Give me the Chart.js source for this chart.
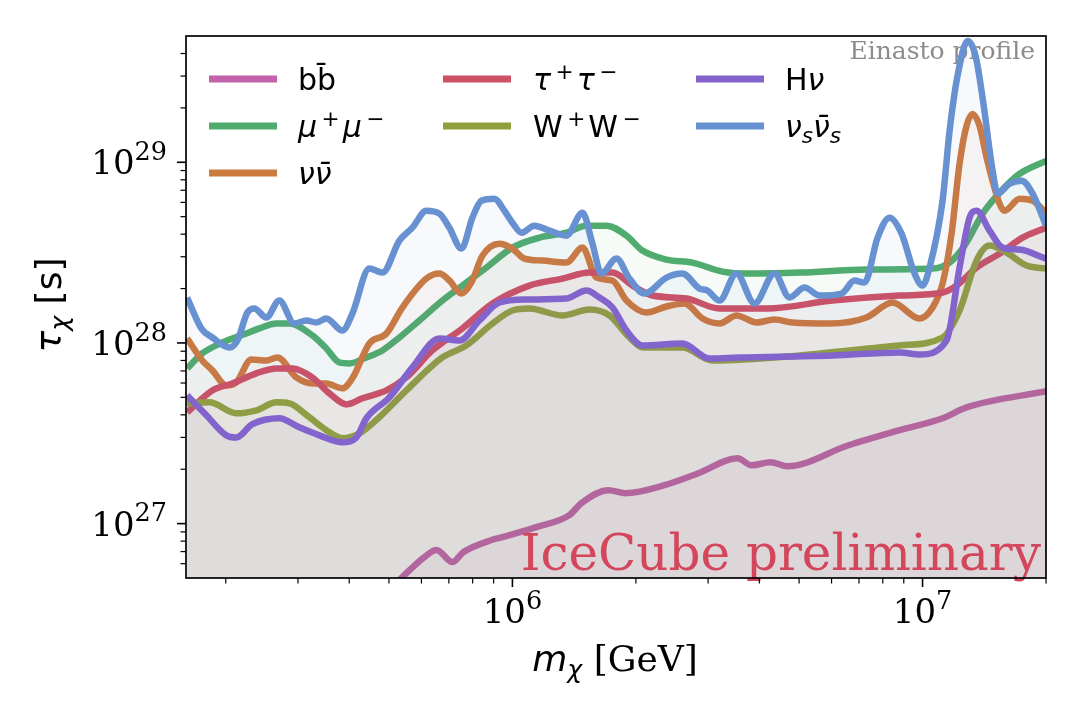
<!DOCTYPE html>
<html><head><meta charset="utf-8">
<script src="https://cdn.jsdelivr.net/npm/chart.js@4.4.1/dist/chart.umd.min.js"></script>
<style>html,body{margin:0;padding:0;background:#fff;}#wrap{width:1080px;height:720px;}</style>
</head><body><div id="wrap"><canvas id="c" width="1080" height="720"></canvas></div>
<script>
// ---- data (mass in GeV, lifetime lower limit in s) ----
const massBB = [4.87e5,5.39e5,6.10e5,6.53e5,7.14e5,7.60e5,8.89e5,9.45e5,1.144e6,1.377e6,1.473e6,1.715e6,1.886e6,2.348e6,2.843e6,3.538e6,3.827e6,4.258e6,4.685e6,6.60e6,8.79e6,1.119e7,1.28e7,2.0e7];
const tauBB  = [4.08e26,5.06e26,6.53e26,7.14e26,6.13e26,6.96e26,8.11e26,8.42e26,9.57e26,1.114e27,1.298e27,1.531e27,1.474e27,1.632e27,1.901e27,2.30e27,2.104e27,2.186e27,2.078e27,2.715e27,3.29e27,3.83e27,4.40e27,5.40e27];

const massMuMu = [1.61e5,1.753e5,1.962e5,2.245e5,2.415e5,2.657e5,2.859e5,3.252e5,3.518e5,3.785e5,4.004e5,4.405e5,4.819e5,5.302e5,5.932e5,6.75e5,7.55e5,8.64e5,1.0e6,1.164e6,1.354e6,1.515e6,1.696e6,1.897e6,2.075e6,2.375e6,2.748e6,3.252e6,3.785e6,5.012e6,7.30e6,1.058e7,1.164e7,1.266e7,1.401e7,1.541e7,1.725e7,2.0e7];
const tauMuMu  = [7.23e27,8.75e27,1.006e28,1.128e28,1.203e28,1.281e28,1.281e28,1.10e28,9.32e27,7.80e27,7.70e27,8.31e27,9.09e27,1.072e28,1.331e28,1.717e28,2.078e28,2.613e28,3.37e28,3.827e28,4.078e28,4.46e28,4.46e28,3.926e28,3.245e28,2.893e28,2.785e28,2.483e28,2.421e28,2.452e28,2.547e28,2.58e28,2.785e28,3.457e28,5.194e28,6.785e28,8.64e28,1.019e29];

const massNuNu = [1.61e5,1.753e5,1.855e5,2.006e5,2.122e5,2.309e5,2.512e5,2.672e5,2.973e5,3.252e5,3.518e5,3.85e5,4.072e5,4.479e5,4.929e5,5.391e5,6.168e5,6.637e5,7.02e5,7.51e5,7.943e5,8.45e5,9.297e5,1.0e6,1.07e6,1.184e6,1.354e6,1.482e6,1.603e6,1.754e6,1.897e6,2.122e6,2.375e6,2.627e6,2.907e6,3.198e6,3.518e6,3.937e6,4.355e6,4.819e6,5.932e6,7.30e6,8.45e6,9.83e6,1.058e7,1.119e7,1.177e7,1.231e7,1.28e7,1.324e7,1.377e7,1.433e7,1.541e7,1.585e7,1.725e7,1.855e7,2.0e7];
const tauNuNu  = [1.059e28,8.0e27,7.05e27,5.82e27,6.05e27,8.11e27,8.0e27,8.31e27,6.45e27,5.97e27,5.97e27,5.61e27,6.37e27,9.94e27,1.128e28,1.571e28,2.272e28,2.421e28,2.215e28,1.877e28,2.16e28,3.043e28,3.546e28,3.328e28,2.93e28,2.857e28,2.785e28,3.37e28,2.301e28,2.215e28,1.717e28,1.474e28,1.591e28,1.653e28,1.366e28,1.281e28,1.419e28,1.298e28,1.348e28,1.298e28,1.281e28,1.383e28,1.674e28,1.366e28,1.571e28,2.132e28,4.027e28,9.81e28,1.591e29,1.853e29,1.591e29,1.059e29,5.90e28,5.395e28,6.284e28,6.127e28,5.26e28];

const massTauTau = [1.61e5,1.855e5,2.076e5,2.375e5,2.657e5,2.907e5,3.252e5,3.579e5,3.937e5,4.307e5,4.929e5,5.514e5,6.38e5,7.55e5,8.94e5,1.1e6,1.324e6,1.541e6,1.754e6,1.962e6,2.195e6,2.657e6,3.198e6,4.164e6,6.03e6,8.79e6,1.119e7,1.21e7,1.354e7,1.541e7,1.754e7,2.0e7];
const tauTauTau  = [4.13e27,5.46e27,5.97e27,6.79e27,7.23e27,7.23e27,6.45e27,5.26e27,4.57e27,4.94e27,5.46e27,6.45e27,9.09e27,1.203e28,1.653e28,2.078e28,2.272e28,2.452e28,2.452e28,2.078e28,1.83e28,1.762e28,1.551e28,1.551e28,1.717e28,1.83e28,1.901e28,2.078e28,2.613e28,3.122e28,3.827e28,4.346e28];

const massWW = [1.61e5,1.824e5,2.122e5,2.375e5,2.657e5,2.859e5,3.197e5,3.518e5,3.85e5,4.235e5,4.738e5,5.514e5,6.75e5,7.72e5,8.94e5,1.0e6,1.1e6,1.324e6,1.541e6,1.725e6,1.929e6,2.075e6,2.597e6,3.075e6,5.012e6,8.79e6,1.119e7,1.231e7,1.354e7,1.457e7,1.603e7,1.794e7,2.0e7];
const tauWW  = [4.63e27,4.69e27,4.08e27,4.24e27,4.69e27,4.63e27,3.88e27,3.29e27,2.97e27,3.16e27,3.88e27,5.46e27,8.31e27,9.69e27,1.281e28,1.512e28,1.551e28,1.419e28,1.531e28,1.419e28,1.072e28,9.44e27,9.44e27,8.0e27,8.53e27,9.69e27,1.072e28,1.512e28,2.857e28,3.457e28,3.162e28,2.68e28,2.58e28];

const massHNu = [1.61e5,1.794e5,2.006e5,2.122e5,2.322e5,2.702e5,3.023e5,3.382e5,3.85e5,4.164e5,4.405e5,5.012e5,5.703e5,6.637e5,7.43e5,8.31e5,9.297e5,1.082e6,1.354e6,1.515e6,1.63e6,1.754e6,1.897e6,2.075e6,2.597e6,3.023e6,3.579e6,6.03e6,8.79e6,9.83e6,1.144e7,1.231e7,1.302e7,1.354e7,1.457e7,1.567e7,1.725e7,2.0e7];
const tauHNu  = [5.13e27,3.98e27,3.08e27,3.00e27,3.55e27,3.83e27,3.41e27,3.08e27,2.82e27,3.00e27,3.83e27,5.0e27,7.32e27,1.059e28,1.032e28,1.331e28,1.674e28,1.739e28,1.762e28,1.95e28,1.784e28,1.571e28,1.172e28,9.69e27,9.94e27,8.21e27,8.31e27,8.53e27,8.86e27,8.64e27,1.032e28,2.613e28,4.936e28,5.395e28,4.183e28,3.37e28,3.286e28,2.93e28];

const massNuS = [1.61e5,1.744e5,1.855e5,2.04e5,2.135e5,2.258e5,2.349e5,2.512e5,2.702e5,2.94e5,3.145e5,3.327e5,3.518e5,3.85e5,4.072e5,4.479e5,4.819e5,5.302e5,5.703e5,6.168e5,6.637e5,7.02e5,7.51e5,7.988e5,8.40e5,9.04e5,9.56e5,1.0e6,1.052e6,1.131e6,1.231e6,1.354e6,1.482e6,1.567e6,1.648e6,1.793e6,1.929e6,2.099e6,2.375e6,2.597e6,2.858e6,2.99e6,3.198e6,3.518e6,3.893e6,4.355e6,4.738e6,5.155e6,5.608e6,6.346e6,6.826e6,7.22e6,7.77e6,8.31e6,8.89e6,9.56e6,1.0e7,1.04e7,1.119e7,1.164e7,1.217e7,1.288e7,1.347e7,1.401e7,1.482e7,1.524e7,1.63e7,1.744e7,1.855e7,2.0e7];
const tauNuS  = [1.784e28,1.203e28,1.072e28,9.44e27,1.032e28,1.474e28,1.551e28,1.383e28,1.717e28,1.281e28,1.331e28,1.298e28,1.366e28,1.172e28,1.455e28,2.58e28,2.452e28,3.684e28,4.346e28,5.395e28,5.194e28,4.346e28,3.328e28,4.936e28,6.127e28,6.284e28,5.395e28,4.632e28,4.078e28,4.46e28,4.183e28,3.926e28,5.26e28,3.546e28,2.421e28,2.93e28,2.272e28,1.877e28,2.301e28,2.421e28,2.0e28,1.95e28,1.717e28,2.421e28,1.653e28,2.421e28,1.784e28,2.026e28,1.83e28,1.877e28,2.215e28,2.16e28,3.827e28,4.936e28,4.027e28,2.421e28,2.078e28,2.613e28,6.127e28,1.493e29,3.006e29,4.692e29,3.877e29,2.272e29,8.974e28,6.699e28,7.606e28,7.9e28,6.699e28,4.46e28];

const seriesNames = ['bb̄','μ⁺μ⁻','νν̄','τ⁺τ⁻','W⁺W⁻','Hν','νₛν̄ₛ'];
const legendLabels = [
  [{t:'b'},{t:'b\u0304'}],
  [{t:'μ',it:1},{t:'+',sup:1,gap:0.15},{t:'μ',it:1,gap:0.1},{t:'−',sup:1,gap:0.15}],
  [{t:'ν',it:1},{t:'ν\u0304',it:1}],
  [{t:'τ',it:1},{t:'+',sup:1,gap:0.15},{t:'τ',it:1,gap:0.1},{t:'−',sup:1,gap:0.15}],
  [{t:'W'},{t:'+',sup:1,gap:0.15},{t:'W',gap:0.1},{t:'−',sup:1,gap:0.15}],
  [{t:'H'},{t:'ν',it:1}],
  [{t:'ν',it:1},{t:'s',it:1,sub:1},{t:'ν\u0304',it:1},{t:'s',it:1,sub:1}]
];
const xMajorTicks = [1e6, 1e7];
const xMajorExps = ['6', '7'];
const xMinorTicks = [2e5,3e5,4e5,5e5,6e5,7e5,8e5,9e5,2e6,3e6,4e6,5e6,6e6,7e6,8e6,9e6,2e7];
const yMajorTicks = [1e27, 1e28, 1e29];
const yMajorExps = ['27', '28', '29'];
const yMinorTicks = [6e26,7e26,8e26,9e26,2e27,3e27,4e27,5e27,6e27,7e27,8e27,9e27,2e28,3e28,4e28,5e28,6e28,7e28,8e28,9e28,2e29,3e29,4e29];

const seriesMass = [massBB, massMuMu, massNuNu, massTauTau, massWW, massHNu, massNuS];
const seriesTau  = [tauBB, tauMuMu, tauNuNu, tauTauTau, tauWW, tauHNu, tauNuS];
const seriesColors = ['#c462ab','#50ac6e','#cd7a3e','#cd5064','#929f3d','#8563cc','#6791d0'];

function rgba(hex, a){
  const n = parseInt(hex.slice(1),16);
  return `rgba(${(n>>16)&255},${(n>>8)&255},${n&255},${a})`;
}

const datasets = seriesMass.map((m,i)=>({
  label: seriesNames[i],
  data: m.map((x,j)=>({x:x, y:seriesTau[i][j]})),
  borderColor: seriesColors[i],
  backgroundColor: rgba(seriesColors[i], 0.05),
  fill: 'start',
  borderWidth: 6.5,
  pointRadius: 0,
  cubicInterpolationMode: 'monotone',
  borderJoinStyle: 'round',
  borderCapStyle: 'butt',
  clip: 0,
  order: 10 - i
}));

function fontFor(p, size, supScale){
  const sz = (p.sup || p.sub) ? size*(supScale||0.7) : size;
  const fam = p.serif ? '"DejaVu Serif"' : '"DejaVu Sans"';
  return (p.it ? 'italic ' : '') + sz.toFixed(1) + 'px ' + fam;
}
function richWidth(ctx, pieces, size, supScale){
  let w = 0;
  for (const p of pieces){ ctx.font = fontFor(p,size,supScale); w += ctx.measureText(p.t).width + (p.gap||0)*size; }
  return w;
}
function drawRich(ctx, pieces, x, y, size, align, supRise, supScale){
  const w = richWidth(ctx, pieces, size, supScale);
  let cx = align === 'center' ? x - w/2 : align === 'right' ? x - w : x;
  ctx.textAlign = 'left'; ctx.textBaseline = 'alphabetic';
  for (const p of pieces){
    ctx.font = fontFor(p,size,supScale);
    cx += (p.gap||0)*size;
    const dy = p.sup ? -size*(supRise||0.38) : p.sub ? size*0.2 : 0;
    ctx.fillText(p.t, cx, y + dy);
    cx += ctx.measureText(p.t).width;
  }
}

const decor = {
  id: 'decor',
  beforeDatasetsDraw(chart){
    const ctx = chart.ctx;
    ctx.save();
    ctx.fillStyle = '#8c8c8c';
    ctx.font = '25px "DejaVu Serif"';
    ctx.textAlign = 'right'; ctx.textBaseline = 'alphabetic';
    ctx.fillText('Einasto profile', 1035, 59);
    ctx.restore();
  },
  afterDatasetsDraw(chart){
    const ctx = chart.ctx, a = chart.chartArea;
    const xs = chart.scales.x, ys = chart.scales.y;
    ctx.save();
    // watermark
    ctx.fillStyle = '#d3465c';
    ctx.font = '50px "DejaVu Serif"';
    ctx.textAlign = 'right'; ctx.textBaseline = 'alphabetic';
    ctx.fillText('IceCube preliminary', 1041, 570);
    // frame
    ctx.strokeStyle = '#000'; ctx.lineWidth = 1.7;
    ctx.strokeRect(a.left, a.top, a.right - a.left, a.bottom - a.top);
    // ticks
    ctx.lineCap = 'butt';
    const tick = (x1,y1,x2,y2,w)=>{ ctx.lineWidth = w; ctx.beginPath(); ctx.moveTo(x1,y1); ctx.lineTo(x2,y2); ctx.stroke(); };
    xMinorTicks.forEach(v=>{ const px = xs.getPixelForValue(v); tick(px, a.bottom, px, a.bottom+5.5, 1.2); });
    xMajorTicks.forEach(v=>{ const px = xs.getPixelForValue(v); tick(px, a.bottom, px, a.bottom+9, 1.6); });
    yMinorTicks.forEach(v=>{ const py = ys.getPixelForValue(v); tick(a.left, py, a.left-5.5, py, 1.2); });
    yMajorTicks.forEach(v=>{ const py = ys.getPixelForValue(v); tick(a.left, py, a.left-9, py, 1.6); });
    // tick labels
    ctx.fillStyle = '#000';
    xMajorTicks.forEach((v,i)=>{
      const px = xs.getPixelForValue(v);
      drawRich(ctx, [{t:'10',serif:1},{t:xMajorExps[i],serif:1,sup:1}], px, 623, 34, 'center', 0.42, 0.75);
    });
    yMajorTicks.forEach((v,i)=>{
      const py = ys.getPixelForValue(v);
      drawRich(ctx, [{t:'10',serif:1},{t:yMajorExps[i],serif:1,sup:1}], 167, py + 12, 34, 'right', 0.42, 0.75);
    });
    // axis titles
    drawRich(ctx, [{t:'m',it:1},{t:'χ',it:1,sub:1},{t:' [GeV]',serif:1}], 615, 671, 36, 'center');
    ctx.save();
    ctx.translate(61, 305); ctx.rotate(-Math.PI/2);
    drawRich(ctx, [{t:'τ',it:1},{t:'χ',it:1,sub:1},{t:' [s]'}], 0, 0, 36, 'center');
    ctx.restore();
    // legend (3 columns, column-major)
    const colLine = [209, 443, 696], colText = [298, 533, 785], rowY = [79, 126, 173];
    const place = [[0,0],[0,1],[0,2],[1,0],[1,1],[2,0],[2,1]];
    place.forEach(([c,r],i)=>{
      ctx.strokeStyle = seriesColors[i]; ctx.lineWidth = 7; ctx.lineCap = 'butt';
      ctx.beginPath(); ctx.moveTo(colLine[c], rowY[r]); ctx.lineTo(colLine[c]+68, rowY[r]); ctx.stroke();
      ctx.fillStyle = '#000';
      drawRich(ctx, legendLabels[i], colText[c], rowY[r] + 11, 30, 'left', 0.38, 0.72);
    });
    ctx.restore();
  }
};

new Chart(document.getElementById('c'), {
  type: 'line',
  data: { datasets },
  options: {
    responsive: false, animation: false, devicePixelRatio: 1, events: [],
    layout: { padding: { top: 36, right: 34, left: 0, bottom: 0 } },
    plugins: { legend: { display: false }, tooltip: { enabled: false } },
    scales: {
      x: { type: 'logarithmic', min: 1.6e5, max: 2e7, bounds: 'data',
           grid: { display: false }, border: { display: false }, ticks: { display: false },
           afterFit(s){ s.height = 142; } },
      y: { type: 'logarithmic', min: 5e26, max: 5e29, bounds: 'data',
           grid: { display: false }, border: { display: false }, ticks: { display: false },
           afterFit(s){ s.width = 186; } }
    }
  },
  plugins: [decor]
});
</script>
</body></html>
